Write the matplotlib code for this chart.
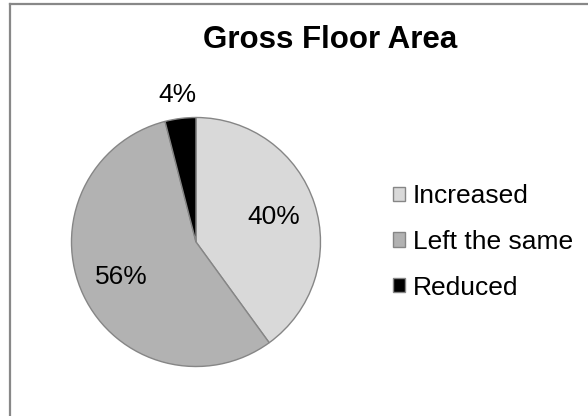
import matplotlib
matplotlib.use("Agg")
import matplotlib.pyplot as plt
from matplotlib.patches import Patch
from matplotlib.lines import Line2D
import numpy as np

plt.rcParams['font.family'] = ['Liberation Sans', 'DejaVu Sans']

title = "Gross Floor Area"
categories = ["Increased", "Left the same", "Reduced"]
values = [40, 56, 4]
colors = ["#d9d9d9", "#b2b2b2", "#000000"]
edge = "#868686"

W, H = 588, 416
fig = plt.figure(figsize=(W / 100, H / 100), dpi=100)

# chart border (top and left visible)
fig.add_artist(Line2D([10 / W, 1.01], [1 - 4 / H, 1 - 4 / H], color="#888888", lw=1.6,
                      transform=fig.transFigure))
fig.add_artist(Line2D([10 / W, 10 / W], [-0.01, 1 - 4 / H], color="#888888", lw=1.6,
                      transform=fig.transFigure))

cx, cy, r = 196, 242, 124.5
ax = fig.add_axes([(cx - r) / W, (H - cy - r) / H, 2 * r / W, 2 * r / H])
wedges, texts, autotexts = ax.pie(
    values, colors=colors, startangle=90, counterclock=False,
    autopct=lambda p: f"{p:.0f}%", pctdistance=0.66, radius=1,
    wedgeprops=dict(edgecolor=edge, linewidth=1.0),
    textprops=dict(fontsize=19, color="black"))
ax.set_xlim(-1, 1)
ax.set_ylim(-1, 1)
ax.set_aspect("equal")

# move the small slice label outside
w = wedges[2]
mid = np.deg2rad((w.theta1 + w.theta2) / 2)
autotexts[2].set_position((1.19 * np.cos(mid), 1.19 * np.sin(mid)))

fig.text(330 / W, 1 - 40 / H, title, ha="center", va="center",
         fontsize=22.5, fontweight="bold")

handles = [Patch(facecolor=c, edgecolor=edge, linewidth=1.0) for c in colors]
fig.legend(handles, categories, loc="center left",
           bbox_to_anchor=(393 / W, 1 - 242 / H), frameon=False,
           fontsize=19, handlelength=0.46, handleheight=0.46,
           handletextpad=0.3, labelspacing=0.82, borderaxespad=0, borderpad=0)

fig.savefig("out.png", dpi=100)
